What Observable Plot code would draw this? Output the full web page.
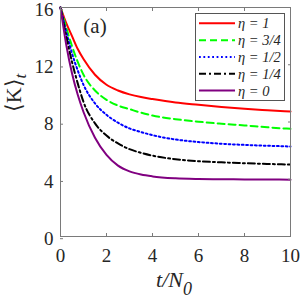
<!DOCTYPE html>
<html><head><meta charset="utf-8">
<script src="https://cdn.jsdelivr.net/npm/d3@7"></script>
<script src="https://cdn.jsdelivr.net/npm/@observablehq/plot@0.6"></script>
<style>body{margin:0;background:#fff;} #chart svg{display:block;}</style>
</head><body><div id="chart"></div>
<script>
const tValues = [0, 0.25, 0.5, 0.75, 1, 1.5, 2, 2.5, 3, 3.5, 4, 5, 6, 7, 8, 9, 10];
const eta1  = [16, 14.9, 14.0, 13.1, 12.4, 11.3, 10.6, 10.2, 9.93, 9.74, 9.6, 9.36, 9.2, 9.05, 8.92, 8.82, 8.73];
const eta34 = [16, 14.6, 13.3, 12.2, 11.3, 10.2, 9.55, 9.15, 8.9, 8.65, 8.45, 8.2, 8.02, 7.88, 7.76, 7.63, 7.52];
const eta12 = [16, 14.3, 12.8, 11.6, 10.6, 9.3, 8.5, 7.95, 7.55, 7.3, 7.08, 6.78, 6.6, 6.48, 6.4, 6.34, 6.29];
const eta14 = [16, 14.0, 12.2, 10.7, 9.4, 7.9, 7.05, 6.5, 6.1, 5.85, 5.65, 5.4, 5.26, 5.18, 5.12, 5.07, 5.03];
const eta0  = [16, 13.4, 11.4, 9.9, 8.7, 6.9, 5.7, 4.95, 4.55, 4.33, 4.2, 4.07, 4.02, 4.0, 3.99, 3.98, 3.97];
const seriesNames = ["η = 1", "η = 3/4", "η = 1/2", "η = 1/4", "η = 0"];
const seriesValues = [eta1, eta34, eta12, eta14, eta0];
const seriesColors = ["#ff0000", "#00ff00", "#0000ff", "#000000", "#800080"];
const seriesDash = [null, "7,4", "1.8,2.6", "7,3,2,3", null];
const xTicks = [0, 2, 4, 6, 8, 10];
const yTicks = [0, 4, 8, 12, 16];

const rows = [];
seriesValues.forEach((vals, i) => vals.forEach((v, j) => rows.push({t: tValues[j], k: v, s: seriesNames[i]})));

const axisColor = "#7a7a7a";
const plot = Plot.plot({
  width: 300, height: 299,
  marginLeft: 60, marginRight: 10, marginTop: 7, marginBottom: 63,
  style: {fontFamily: "'Liberation Serif', 'Times New Roman', serif", fontSize: "19px", color: "#262626", background: "#fff", overflow: "visible"},
  x: {domain: [0, 10]},
  y: {domain: [0, 16]},
  marks: [
    ...seriesNames.map((n, i) => Plot.line(rows.filter(r => r.s === n), {
      x: "t", y: "k", stroke: seriesColors[i], strokeWidth: 2,
      strokeDasharray: seriesDash[i], curve: "monotone-x"
    })),
    Plot.frame({stroke: axisColor}),
    Plot.axisX(xTicks, {anchor: "bottom", tickSize: -3, tickPadding: 15, label: null, stroke: axisColor, fill: "#262626"}),
    Plot.axisX(xTicks, {anchor: "top", tickSize: -3, label: null, stroke: axisColor, fill: "none"}),
    Plot.axisY(yTicks, {anchor: "left", tickSize: -3, tickPadding: 10, dy: 2.2, label: null, stroke: axisColor, fill: "#262626"}),
    Plot.axisY(yTicks, {anchor: "right", tickSize: -3, label: null, stroke: axisColor, fill: "none"})
  ]
});
document.getElementById("chart").appendChild(plot);

const svg = d3.select(plot);
const serif = "'Liberation Serif', 'Times New Roman', serif";

// panel label
svg.append("text").attr("x", 95).attr("y", 33).attr("text-anchor", "middle")
  .attr("font-family", serif).attr("font-size", 21).attr("fill", "#262626").text("(a)");

// x label
const xl = svg.append("text").attr("x", 174).attr("y", 286.5).attr("text-anchor", "middle")
  .attr("font-family", serif).attr("font-style", "italic").attr("font-size", 22).attr("fill", "#262626");
xl.append("tspan").text("t/N");
xl.append("tspan").attr("font-size", 18).attr("dy", 8).text("0");

// y label
const yl = svg.append("text").attr("transform", "translate(21,93) rotate(-90)").attr("text-anchor", "middle")
  .attr("font-family", serif).attr("font-size", 22).attr("fill", "#262626");
yl.append("tspan").text("⟨K⟩");
yl.append("tspan").attr("font-size", 17).attr("font-style", "italic").attr("dy", 5).text("t");

// legend
const lg = svg.append("g");
lg.append("rect").attr("x", 195.5).attr("y", 13.5).attr("width", 89).attr("height", 87)
  .attr("fill", "#fff").attr("stroke", "#555").attr("stroke-width", 1);
const entryY = [23.3, 40.2, 57, 73.8, 90.5];
seriesNames.forEach((n, i) => {
  lg.append("line").attr("x1", 199).attr("x2", 235).attr("y1", entryY[i]).attr("y2", entryY[i])
    .attr("stroke", seriesColors[i]).attr("stroke-width", 2)
    .attr("stroke-dasharray", seriesDash[i]);
  lg.append("text").attr("x", 238).attr("y", entryY[i] + 5).attr("text-anchor", "start")
    .attr("font-family", serif).attr("font-style", "italic").attr("font-size", 14.5)
    .attr("fill", "#262626").text(n);
});
</script>
</body></html>
